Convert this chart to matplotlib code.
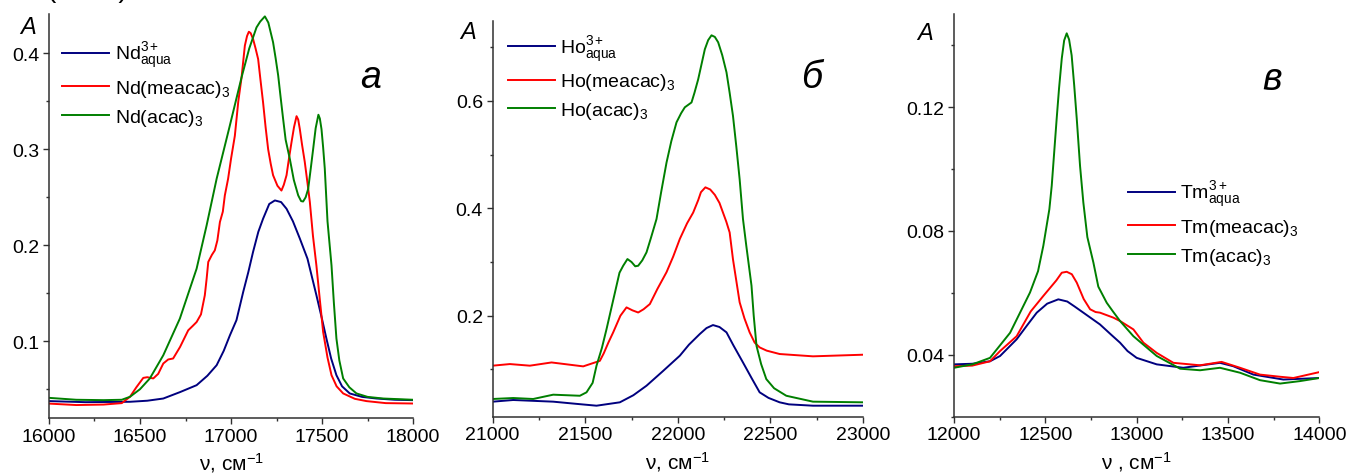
import matplotlib
matplotlib.use("Agg")
from matplotlib import pyplot as plt
from matplotlib.ticker import MultipleLocator

plt.rcParams['font.family'] = ['Liberation Sans', 'DejaVu Sans']
plt.rcParams['mathtext.fontset'] = 'custom'
plt.rcParams['mathtext.rm'] = 'Liberation Sans'
plt.rcParams['mathtext.it'] = 'Liberation Sans:italic'

BLUE = '#00007f'
RED = '#ff0000'
GREEN = '#007f00'

# ---- Nd: 16000-18000 cm-1 ----
nd_aqua_x = [16000, 16200, 16445, 16540, 16628, 16720, 16811, 16870, 16921, 16960, 16994,
             17030, 17067, 17095, 17121, 17150, 17176, 17210, 17241, 17275, 17305, 17340,
             17378, 17420, 17469, 17500, 17524, 17550, 17579, 17610, 17652, 17720, 17799,
             17900, 18000]
nd_aqua_y = [0.0376, 0.0365, 0.0369, 0.038, 0.0403, 0.047, 0.0542, 0.064, 0.075, 0.09, 0.1062,
             0.122, 0.1514, 0.172, 0.193, 0.214, 0.2276, 0.243, 0.2467, 0.245, 0.238, 0.225,
             0.207, 0.186, 0.148, 0.123, 0.1028, 0.082, 0.0646, 0.053, 0.0456, 0.042, 0.0403,
             0.039, 0.0386]

nd_meacac_x = [16000, 16150, 16300, 16400, 16445, 16480, 16518, 16540, 16573, 16600, 16628,
               16655, 16682, 16720, 16765, 16790, 16811, 16835, 16856, 16866, 16875, 16895,
               16911, 16925, 16939, 16955, 16966, 16984, 17000, 17021, 17040, 17058, 17076,
               17088, 17098, 17108, 17121, 17135, 17149, 17162, 17176, 17190, 17204, 17218,
               17231, 17255, 17277, 17290, 17305, 17318, 17332, 17346, 17360, 17369, 17378,
               17390, 17405, 17420, 17433, 17450, 17469, 17488, 17506, 17530, 17552, 17580,
               17616, 17680, 17744, 17850, 18000]
nd_meacac_y = [0.035, 0.0335, 0.034, 0.0355, 0.0421, 0.052, 0.0618, 0.0625, 0.0612, 0.066, 0.0768,
               0.081, 0.082, 0.094, 0.1114, 0.116, 0.120, 0.128, 0.1478, 0.165, 0.1826, 0.19,
               0.1947, 0.205, 0.2242, 0.235, 0.2519, 0.2693, 0.29, 0.314, 0.35, 0.375, 0.408,
               0.418, 0.4225, 0.421, 0.415, 0.405, 0.394, 0.372, 0.349, 0.323, 0.300, 0.285,
               0.273, 0.262, 0.257, 0.263, 0.273, 0.29, 0.307, 0.323, 0.3345, 0.331, 0.321,
               0.305, 0.287, 0.265, 0.245, 0.21, 0.179, 0.143, 0.1097, 0.083, 0.0646, 0.053,
               0.0456, 0.040, 0.0376, 0.0355, 0.0351]

nd_acac_x = [16000, 16150, 16300, 16400, 16445, 16500, 16554, 16628, 16719, 16811, 16866,
             16921, 16990, 17058, 17100, 17140, 17160, 17186, 17205, 17231, 17245, 17259,
             17272, 17286, 17300, 17323, 17345, 17369, 17385, 17396, 17410, 17424, 17438,
             17451, 17465, 17480, 17488, 17497, 17506, 17515, 17530, 17552, 17565, 17579,
             17595, 17616, 17650, 17689, 17750, 17836, 18000]
nd_acac_y = [0.041, 0.039, 0.0386, 0.039, 0.0421, 0.05, 0.0612, 0.0854, 0.1236, 0.1756, 0.2207,
             0.2693, 0.322, 0.375, 0.405, 0.427, 0.433, 0.4385, 0.432, 0.4115, 0.395, 0.377,
             0.355, 0.332, 0.31, 0.290, 0.268, 0.252, 0.246, 0.2456, 0.250, 0.2588, 0.28,
             0.300, 0.322, 0.336, 0.332, 0.321, 0.302, 0.280, 0.225, 0.179, 0.14, 0.1028,
             0.08, 0.0612, 0.052, 0.0456, 0.042, 0.0403, 0.039]

# ---- Ho: 21000-23000 cm-1 ----
ho_aqua_x = [21000, 21111, 21327, 21450, 21561, 21687, 21760, 21831, 21920, 22011, 22060,
             22119, 22155, 22190, 22225, 22263, 22300, 22352, 22400, 22442, 22490, 22550,
             22600, 22730, 23000]
ho_aqua_y = [0.040, 0.0431, 0.040, 0.036, 0.0325, 0.0388, 0.052, 0.0697, 0.097, 0.1256, 0.146,
             0.166, 0.177, 0.1826, 0.179, 0.169, 0.145, 0.113, 0.083, 0.0574, 0.047, 0.0388,
             0.035, 0.0325, 0.0325]

ho_meacac_x = [21000, 21093, 21201, 21318, 21489, 21579, 21600, 21625, 21651, 21690, 21723,
               21755, 21786, 21815, 21849, 21890, 21939, 21975, 22011, 22050, 22083, 22110,
               22125, 22149, 22175, 22200, 22225, 22244, 22262, 22280, 22298, 22316, 22334,
               22360, 22388, 22415, 22442, 22480, 22550, 22730, 23000]
ho_meacac_y = [0.107, 0.110, 0.107, 0.113, 0.1057, 0.116, 0.13, 0.15, 0.169, 0.2, 0.2155,
               0.21, 0.206, 0.212, 0.2217, 0.25, 0.281, 0.31, 0.343, 0.372, 0.392, 0.415,
               0.43, 0.439, 0.435, 0.425, 0.41, 0.392, 0.375, 0.355, 0.305, 0.265, 0.225,
               0.195, 0.169, 0.15, 0.141, 0.135, 0.1287, 0.1244, 0.1274]

ho_acac_x = [21000, 21111, 21219, 21327, 21471, 21507, 21540, 21561, 21590, 21615, 21645,
             21669, 21685, 21705, 21728, 21750, 21770, 21786, 21808, 21831, 21855, 21885,
             21910, 21939, 21965, 21993, 22018, 22038, 22074, 22090, 22110, 22128, 22146,
             22164, 22182, 22200, 22218, 22240, 22263, 22280, 22298, 22316, 22334, 22352,
             22370, 22398, 22410, 22425, 22450, 22478, 22520, 22586, 22730, 23000]
ho_acac_y = [0.045, 0.0468, 0.045, 0.053, 0.051, 0.0574, 0.075, 0.107, 0.14, 0.175, 0.22,
             0.256, 0.28, 0.293, 0.3055, 0.30, 0.292, 0.293, 0.303, 0.318, 0.345, 0.380,
             0.43, 0.485, 0.525, 0.560, 0.577, 0.588, 0.597, 0.615, 0.640, 0.668, 0.696,
             0.713, 0.722, 0.719, 0.709, 0.685, 0.653, 0.615, 0.572, 0.515, 0.454, 0.380,
             0.33, 0.256, 0.2, 0.144, 0.11, 0.082, 0.065, 0.051, 0.040, 0.0388]

# ---- Tm: 12000-14000 cm-1 ----
tm_aqua_x = [12000, 12100, 12197, 12252, 12343, 12400, 12453, 12510, 12571, 12620, 12660,
             12708, 12799, 12860, 12909, 12950, 13000, 13110, 13255, 13456, 13529, 13639,
             13803, 14000]
tm_aqua_y = [0.0369, 0.0371, 0.0379, 0.0396, 0.045, 0.0495, 0.0536, 0.0565, 0.0579, 0.0572, 0.0556,
             0.0536, 0.0498, 0.0465, 0.0439, 0.0412, 0.039, 0.0369, 0.0358, 0.0374, 0.0363, 0.0336,
             0.032, 0.0325]

tm_meacac_x = [12000, 12100, 12197, 12252, 12343, 12420, 12489, 12560, 12590, 12617, 12645,
               12672, 12710, 12745, 12775, 12799, 12872, 12909, 12982, 13037, 13110, 13201,
               13347, 13465, 13566, 13675, 13785, 13858, 14000]
tm_meacac_y = [0.0363, 0.0365, 0.0379, 0.0412, 0.046, 0.054, 0.059, 0.064, 0.0665, 0.0668, 0.066,
               0.0633, 0.058, 0.0547, 0.0538, 0.0536, 0.052, 0.0509, 0.0482, 0.0439, 0.0406, 0.0374,
               0.0366, 0.0377, 0.0358, 0.0336, 0.0329, 0.0325, 0.0344]

tm_acac_x = [12000, 12100, 12197, 12307, 12416, 12460, 12489, 12522, 12535, 12548, 12562,
             12575, 12590, 12603, 12617, 12630, 12644, 12658, 12672, 12690, 12708, 12730,
             12763, 12790, 12836, 12870, 12909, 12982, 13110, 13238, 13347, 13456, 13566,
             13675, 13785, 13894, 14000]
tm_acac_y = [0.0358, 0.0369, 0.039, 0.0471, 0.0601, 0.067, 0.0752, 0.087, 0.0946, 0.105, 0.1162,
             0.126, 0.1357, 0.1415, 0.1438, 0.1418, 0.1367, 0.127, 0.1162, 0.101, 0.0892, 0.078,
             0.0698, 0.062, 0.0568, 0.054, 0.0509, 0.046, 0.0396, 0.0355, 0.035, 0.0358, 0.0342,
             0.0318, 0.0307, 0.0315, 0.0325]

panels = [
    dict(pos=[0.0363, 0.1216, 0.2699, 0.847], xlim=(16000, 18000), ylim=(0.02, 0.441),
         ymajor=0.1, yminor=0.05, yfmt='{:.1f}', letter='а',
         series=[(nd_aqua_x, nd_aqua_y, BLUE, r'Nd$^{3+}_{\mathrm{aqua}}$'),
                 (nd_meacac_x, nd_meacac_y, RED, r'Nd(meacac)$_{3}$'),
                 (nd_acac_x, nd_acac_y, GREEN, r'Nd(acac)$_{3}$')],
         legend_at=(0.036, 0.935), A_at=(-0.058, 0.970), letter_at=(0.882, 0.844),
         xlabel=r'ν, см$^{-1}$'),
    dict(pos=[0.3652, 0.1243, 0.2745, 0.830], xlim=(21000, 23000), ylim=(0.012, 0.749),
         ymajor=0.2, yminor=0.1, yfmt='{:.1f}', letter='б',
         series=[(ho_aqua_x, ho_aqua_y, BLUE, r'Ho$^{3+}_{\mathrm{aqua}}$'),
                 (ho_meacac_x, ho_meacac_y, RED, r'Ho(meacac)$_{3}$'),
                 (ho_acac_x, ho_acac_y, GREEN, r'Ho(acac)$_{3}$')],
         legend_at=(0.041, 0.968), A_at=(-0.067, 0.974), letter_at=(0.862, 0.858),
         xlabel=r'ν, см$^{-1}$'),
    dict(pos=[0.7072, 0.1243, 0.2708, 0.844], xlim=(12000, 14000), ylim=(0.02, 0.150),
         ymajor=0.04, yminor=0.02, yfmt='{:.2f}', letter='в',
         series=[(tm_aqua_x, tm_aqua_y, BLUE, r'Tm$^{3+}_{\mathrm{aqua}}$'),
                 (tm_meacac_x, tm_meacac_y, RED, r'Tm(meacac)$_{3}$'),
                 (tm_acac_x, tm_acac_y, GREEN, r'Tm(acac)$_{3}$')],
         legend_at=(0.476, 0.59), A_at=(-0.079, 0.955), letter_at=(0.870, 0.839),
         xlabel=r'ν , см$^{-1}$'),
]

fig = plt.figure(figsize=(13.49, 4.77), dpi=100)

for p in panels:
    ax = fig.add_axes(p['pos'])
    for xs, ys, col, lab in p['series']:
        ax.plot(xs, ys, color=col, lw=1.4, label=lab, solid_joinstyle='round')
    ax.set_xlim(*p['xlim'])
    ax.set_ylim(*p['ylim'])
    ax.spines['top'].set_visible(False)
    ax.spines['right'].set_visible(False)
    for s in ('left', 'bottom'):
        ax.spines[s].set_linewidth(1.1)
        ax.spines[s].set_color('#303030')
    ax.xaxis.set_major_locator(MultipleLocator(500))
    ax.xaxis.set_minor_locator(MultipleLocator(250))
    ax.yaxis.set_major_locator(MultipleLocator(p['ymajor']))
    ax.yaxis.set_minor_locator(MultipleLocator(p['yminor']))
    fmt = p['yfmt']
    ax.yaxis.set_major_formatter(plt.FuncFormatter(lambda v, pos, f=fmt: f.format(v)))
    ax.tick_params(which='major', direction='out', length=4, width=1, labelsize=14,
                   color='#303030', pad=3)
    ax.tick_params(which='minor', direction='out', length=2.5, width=1, color='#303030')
    ax.set_xlabel(p['xlabel'], fontsize=15, labelpad=4)

    ax.legend(loc='upper left', bbox_to_anchor=p['legend_at'], frameon=False, fontsize=14,
              handlelength=2.4, handletextpad=0.3, labelspacing=0.4, borderpad=0,
              borderaxespad=0)
    ax.text(*p['A_at'], 'A', transform=ax.transAxes, fontsize=17, style='italic',
            ha='center', va='center')
    ax.text(*p['letter_at'], p['letter'], transform=ax.transAxes, fontsize=27,
            style='italic', ha='center', va='center')

# caption marker running off the top edge
fig.text(0.035, 1.02, '(        )', fontsize=20, ha='left', va='center')

fig.savefig('out.png', dpi=100)
